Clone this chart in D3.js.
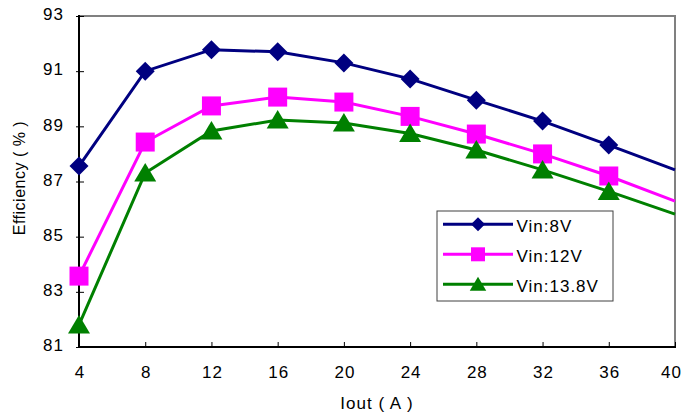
<!DOCTYPE html>
<html>
<head>
<meta charset="utf-8">
<script src="https://cdn.jsdelivr.net/npm/d3@7/dist/d3.min.js"></script>
<style>
  html, body { margin: 0; padding: 0; background: #fff; }
  svg { display: block; }
  text { font-family: "Liberation Sans", Arial, sans-serif; fill: #000; }
</style>
</head>
<body>
<svg id="chart" width="683" height="417"></svg>
<script>
// Output current (A)
const iout = [4, 8, 12, 16, 20, 24, 28, 32, 36, 40];
// Efficiency (%) per input voltage
const vin8 = [87.56, 91.0, 91.78, 91.7, 91.3, 90.72, 89.95, 89.19, 88.32, 87.42];
const vin12 = [83.57, 88.43, 89.74, 90.06, 89.88, 89.36, 88.72, 88.0, 87.2, 86.29];
const vin138 = [81.8, 87.31, 88.83, 89.23, 89.12, 88.74, 88.14, 87.42, 86.64, 85.82];
const seriesNames = ["Vin:8V", "Vin:12V", "Vin:13.8V"];
const xTicks = [4, 8, 12, 16, 20, 24, 28, 32, 36, 40];
const yTicks = [81, 83, 85, 87, 89, 91, 93];

const series = [
  { name: seriesNames[0], values: vin8, color: "#000080", shape: "diamond" },
  { name: seriesNames[1], values: vin12, color: "#FF00FF", shape: "square" },
  { name: seriesNames[2], values: vin138, color: "#008000", shape: "triangle" }
];

const svg = d3.select("#chart");
const pLeft = 79, pRight = 675, pTop = 16, pBottom = 347;
const labelFont = "17px";

const x = d3.scaleLinear().domain([4, 40]).range([pLeft, pRight]);
const y = d3.scaleLinear().domain([81, 93]).range([pBottom, pTop]);

// Plot frame: grey top/right edges
svg.append("path")
  .attr("d", `M${pLeft},${pTop}H${pRight}V${pBottom}`)
  .attr("fill", "none").attr("stroke", "#808080").attr("stroke-width", 2);

// Y axis
const yAxis = svg.append("g").attr("transform", `translate(${pLeft},0)`)
  .call(d3.axisLeft(y).tickValues(yTicks).tickSize(3).tickFormat(d3.format("d")));
yAxis.select(".domain").remove();
yAxis.selectAll(".tick line").attr("x1", 5).attr("x2", -3).attr("stroke", "#000");
yAxis.selectAll(".tick text")
  .style("font-size", labelFont).style("letter-spacing", "1px")
  .attr("x", -15).attr("dy", "0.22em");
yAxis.append("line").attr("x1", 0).attr("x2", 0).attr("y1", pTop - 1).attr("y2", pBottom + 1)
  .attr("stroke", "#000").attr("stroke-width", 2);

// X axis
const xAxis = svg.append("g").attr("transform", `translate(0,${pBottom})`)
  .call(d3.axisBottom(x).tickValues(xTicks).tickSize(0).tickFormat(d3.format("d")));
xAxis.select(".domain").remove();
xAxis.selectAll(".tick line").attr("y1", 0).attr("y2", -5).attr("stroke", "#000");
xAxis.selectAll(".tick text")
  .style("font-size", labelFont).style("letter-spacing", "1px")
  .attr("y", 19).attr("dy", "0.71em")
  // keep the last label inside the right edge of the page
  .attr("dx", d => d === xTicks[xTicks.length - 1] ? -4 : 0.5);
xAxis.append("line").attr("x1", pLeft - 1).attr("x2", pRight + 1).attr("y1", 0).attr("y2", 0)
  .attr("stroke", "#000").attr("stroke-width", 2);

// Axis titles
svg.append("text").attr("x", (pLeft + pRight) / 2).attr("y", 409)
  .attr("text-anchor", "middle").style("font-size", labelFont).style("letter-spacing", "1px")
  .text("Iout ( A )");
svg.append("text").attr("transform", `translate(25,178) rotate(-90)`)
  .attr("text-anchor", "middle").style("font-size", "16px").style("letter-spacing", "0.5px")
  .text("Efficiency ( % )");

function markerPath(shape, s) {
  if (shape === "diamond") return `M0,${-s}L${s},0L0,${s}L${-s},0Z`;
  if (shape === "square") return `M${-s},${-s}H${s}V${s}H${-s}Z`;
  return `M0,${-s}L${s * 1.1},${s * 0.85}H${-s * 1.1}Z`;
}
const markerSize = { diamond: 9.5, square: 9.5, triangle: 10 };

const line = d3.line().x((d, i) => x(iout[i])).y(d => y(d));

series.forEach(s => {
  const g = svg.append("g");
  g.append("path").datum(s.values).attr("d", line)
    .attr("fill", "none").attr("stroke", s.color).attr("stroke-width", 3);
  // markers on every point except the final 40 A reading
  g.selectAll("path.m").data(s.values.slice(0, -1)).join("path").attr("class", "m")
    .attr("transform", (d, i) => `translate(${x(iout[i])},${y(d)})`)
    .attr("d", markerPath(s.shape, markerSize[s.shape]))
    .attr("fill", s.color);
});

// Legend
const lg = svg.append("g");
lg.append("rect").attr("x", 437).attr("y", 211).attr("width", 176).attr("height", 90)
  .attr("fill", "#fff").attr("stroke", "#404040").attr("stroke-width", 1);
const legendSize = { diamond: 7, square: 7, triangle: 7.5 };
series.forEach((s, i) => {
  const cy = 224.3 + i * 30;
  lg.append("line").attr("x1", 443).attr("x2", 513).attr("y1", cy).attr("y2", cy)
    .attr("stroke", s.color).attr("stroke-width", 3);
  lg.append("path").attr("transform", `translate(478,${cy})`)
    .attr("d", markerPath(s.shape, legendSize[s.shape])).attr("fill", s.color);
  lg.append("text").attr("x", 516.5).attr("y", cy + 1.5).attr("dy", "0.36em")
    .style("font-size", labelFont).style("letter-spacing", "1px").text(s.name);
});
</script>
</body>
</html>
